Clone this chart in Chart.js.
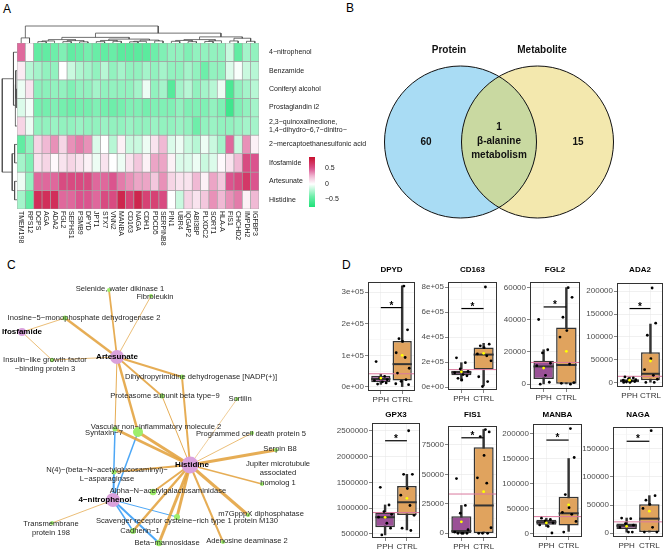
<!DOCTYPE html>
<html>
<head>
<meta charset="utf-8">
<script src="https://cdn.jsdelivr.net/npm/chart.js@4.4.0/dist/chart.umd.min.js"></script>
<style>
html, body { margin: 0; padding: 0; background: #fff; }
#fig { position: relative; width: 669px; height: 551px; overflow: hidden; font-family: "Liberation Sans", Arial, sans-serif; }
#fig canvas { position: absolute; }
.tag { position: absolute; font-size: 12px; line-height: 12px; color: #000; }
</style>
</head>
<body>
<div id="fig">
  <div class="tag" style="left:3px;top:3px">A</div>
  <div class="tag" style="left:346px;top:2px">B</div>
  <div class="tag" style="left:7px;top:259px">C</div>
  <div class="tag" style="left:342px;top:259px">D</div>
</div>
<script>
const FONT = '"Liberation Sans", Arial, sans-serif';

// ---------- A: correlation heatmap ----------
const genes = ['TMEM198','RPS12','DCPS','AGA','ADA2','FGL2','SEPHS1','PSMB9','DPYD','JPT1','STX7','VNN2','MANBA','CD163','NAGA',
  'CDH1','PDCD5','SERPINB8','PIN1','UBR4','IQGAP2','ABI3BP','PLXDC2','SORT1','HLA-A','FIS1','CHCHD2','IMPDH2','IGFBP3'];
const metabolites = ['4−nitrophenol','Benzamide','Coniferyl alcohol','Prostaglandin i2',
  ['2,3−quinoxalinedione,','1,4−dihydro−6,7−dinitro−'],'2−mercaptoethanesulfonic acid','Ifosfamide','Artesunate','Histidine'];

const rNitrophenol = [0.45,0.02,-0.45,-0.45,-0.4,-0.35,-0.45,-0.42,-0.38,-0.42,-0.45,-0.42,-0.48,-0.48,-0.48,-0.48,-0.4,-0.35,-0.3,-0.3,-0.35,-0.3,-0.3,-0.3,-0.3,-0.15,-0.45,-0.25,-0.3];
const rBenzamide = [0.07,-0.2,-0.25,-0.3,-0.3,0.0,-0.15,-0.22,-0.25,-0.3,-0.2,-0.3,-0.25,-0.3,-0.3,-0.25,-0.3,-0.25,-0.3,-0.3,-0.25,-0.3,-0.4,-0.3,-0.3,-0.1,-0.02,-0.15,-0.2];
const rConiferyl = [-0.05,0.1,-0.32,-0.32,-0.3,-0.3,-0.35,-0.3,-0.3,-0.25,-0.3,-0.3,-0.3,-0.3,-0.25,-0.05,-0.3,-0.25,-0.5,-0.25,-0.2,-0.3,-0.25,-0.2,-0.05,-0.55,-0.3,-0.25,-0.2];
const rProstaglandin = [-0.1,-0.03,-0.38,-0.38,-0.35,-0.38,-0.4,-0.38,-0.38,-0.35,-0.38,-0.4,-0.38,-0.35,-0.35,-0.38,-0.35,-0.35,-0.35,-0.3,-0.35,-0.35,-0.35,-0.3,-0.35,-0.6,-0.35,-0.3,-0.25];
const rQuinoxaline = [0.15,-0.05,-0.3,-0.3,-0.28,-0.3,-0.3,-0.28,-0.3,-0.3,-0.28,-0.3,-0.3,-0.28,-0.3,-0.3,-0.28,-0.3,-0.3,-0.28,-0.3,-0.4,-0.3,-0.28,-0.3,-0.3,-0.28,-0.25,-0.25];
const rMercapto = [-0.45,-0.3,0.15,0.25,0.35,0.15,0.35,0.4,0.35,-0.1,0.0,-0.2,0.05,-0.15,-0.15,-0.05,0.1,0.25,-0.1,-0.05,-0.15,-0.2,-0.05,-0.15,-0.25,0.45,-0.15,0.35,0.05];
const rIfosfamide = [-0.25,-0.35,0.1,0.15,0.02,0.1,0.15,0.1,0.05,-0.05,0.1,0.0,-0.05,0.1,0.2,0.05,0.3,0.3,0.05,-0.1,-0.1,-0.05,-0.15,-0.1,0.02,0.1,0.25,0.55,0.5];
const rArtesunate = [-0.05,-0.3,0.45,0.45,0.45,0.55,0.55,0.55,0.55,0.45,0.45,0.5,0.4,0.35,0.3,0.3,0.2,0.35,0.15,0.1,0.1,0.25,0.05,0.3,0.2,0.5,0.55,0.65,0.5];
const rHistidine = [-0.25,-0.45,0.7,0.7,0.7,0.45,0.45,0.5,0.5,0.45,0.55,0.55,0.75,0.6,0.75,0.6,0.6,0.55,0.0,-0.15,0.15,0.1,0.2,0.35,0.25,0.35,0.4,0.05,0.25];
const heatRows = [rNitrophenol, rBenzamide, rConiferyl, rProstaglandin, rQuinoxaline, rMercapto, rIfosfamide, rArtesunate, rHistidine];

// hclust-style merges: negative = leaf (1-based), positive = earlier merge (1-based)
const colMerge = [[-3,-4],[-5,1],[-6,-7],[-8,-9],[3,4],[2,5],[-10,-11],[-12,-13],[7,8],[-14,-15],[-16,10],[-17,-18],[11,12],[9,13],[6,14],
  [-19,-20],[-21,-22],[16,17],[-23,-24],[-25,19],[18,20],[-26,-27],[-28,-29],[22,23],[21,24],[15,25],[-1,-2],[27,26]];
const colHeight = [0.08,0.12,0.08,0.07,0.14,0.2,0.08,0.1,0.15,0.07,0.1,0.12,0.17,0.23,0.33,0.1,0.08,0.15,0.09,0.13,0.2,0.12,0.1,0.28,0.36,0.58,0.3,1.0];
const rowMerge = [[-3,-4],[-2,1],[-5,2],[-1,3],[-6,-7],[-8,-9],[5,6],[4,7]];
const rowHeight = [0.05,0.08,0.12,0.22,0.15,0.15,0.3,0.92];

const legendMin = -0.74, legendMax = 0.87;
const legendTicks = [-0.5, 0, 0.5];
const legendText = ['−0.5', '0', '0.5'];

// ---------- B: Venn ----------
const vennSets = ['Protein', 'Metabolite'];
const vennCounts = [60, 1, 15];           // protein only, shared, metabolite only
const sharedPathway = ['β-alanine', 'metabolism'];

// ---------- C: network ----------
const nodeNames = ['Selenide, water dikinase 1','Fibroleukin','Inosine−5−monophosphate dehydrogenase 2','Ifosfamide',
  ['Insulin−like growth factor','−binding protein 3'],'Artesunate','Dihydropyrimidine dehydrogenase [NADP(+)]',
  'Proteasome subunit beta type−9','Sortilin','Vascular non−inflammatory molecule 2','Syntaxin−7',
  'Programmed cell death protein 5','Serpin B8','Histidine',['Jupiter microtubule','associated','homolog 1'],
  ['N(4)−(beta−N−acetylglucosaminyl)−','L−asparaginase'],'Alpha−N−acetylgalactosaminidase','4−nitrophenol',
  'm7GpppX diphosphatase','Scavenger receptor cysteine−rich type 1 protein M130',['Transmembrane','protein 198'],
  'Cadherin−1','Beta−mannosidase','Adenosine deaminase 2'];
const nodeKind = ['p','p','p','d','p','d','p','p','p','p','p','p','p','d','p','p','p','d','p','p','p','p','p','p'];
const nodeX = [109,151,65,22,52,117,182,162,237,138,115,252,276,190,262,114,153,113,248,177,52,133,159,223];
const nodeY = [10,16,38,52,80,77,97,116,119,152,149,153,170,185,204,192,212,220,235,237,243,251,263,262];
const nodeSize = [2,2,2.5,4,2.2,7,2.5,2.5,2,5,2.5,2,2,8.5,2,2.5,3.3,7,2,3,2,3,3.3,2];
const labelX = [120,155,84,22,45,117,201,165,240,156,104,251,280,192,278,107,168,105,261,187,51,140,167,247];
const labelY = [8.5,17,38,52,80,77,97,116,119,147,153,154,169,185,184,190,211,220,234,241,244,251,263,261];
const edgeFrom = [5,5,5,5,5,5,5,5, 3,3, 13,13,13,13,13,13,13,13,13,13,13,13,13,13,13, 17,17,17,17,17,17,17];
const edgeTo   = [2,0,1,4,6,7,10,9, 2,4, 6,7,8,9,10,11,12,14,15,16,18,19,21,22,23, 10,15,9,19,21,22,20];
const edgeWeight = [2.5,1.8,0.8,0.8,2,1.8,1,2.5, 0.8,0.8, 2,1,0.6,3,2.5,0.8,3,1.5,2,2,3,3,2.5,3,2, 1.5,1.2,1.5,1,1.5,2,0.8];
const edgeSign = [1,1,1,1,1,1,1,1, 1,1, 1,1,1,1,1,1,1,1,1,1,1,1,1,1,1, -1,-1,-1,-1,-1,-1,1];

// ---------- D: boxplots ----------
const groupNames = ['PPH', 'CTRL'];
const boxGenes = ['DPYD','CD163','FGL2','ADA2','GPX3','FIS1','MANBA','NAGA'];
// [lower whisker, Q1, median, Q3, upper whisker]
const pphBox = [[8000,15000,25000,35000,40000],[50000,95000,118000,130000,195000],[0,3200,11000,14500,21400],[0,1000,3000,7000,12000],
  [480000,629000,823000,913000,1061000],[0,0,1900,14400,23600],[15000,18300,23500,28100,31400],[1700,7400,13100,17100,26800]];
const ctrlBox = [[0,20000,72000,145000,320000],[10000,140000,260000,317000,350000],[0,0,11900,35200,60000],[0,5000,19000,66000,128000],
  [577000,868000,1113000,1429000,1655000],[0,0,23600,73000,88000],[5200,17000,41200,73900,150300],[1700,1700,25700,51300,66700]];
const pphPoints = [[80000,33000,28000,23000,20000,16000,12500,9000],[234000,195000,145000,125000,115000,100000,90000,70000,57000],
  [40200,21400,19400,13000,11500,5500,1200,0],[12000,10000,8000,6000,5000,3000,2000,1000,0,0],
  [1403000,1060000,932000,880000,823000,706000,610000,480000],[46400,23600,17000,3000,1000,0,0,0,0],
  [31400,29000,26000,22000,18000,15000,2000],[26800,25600,17000,14000,10000,1700,1700]];
const ctrlPoints = [[319000,180700,152600,144000,108000,93000,59000,43600,22800,17600,7000,10000],
  [800000,343000,330000,315000,265000,250000,210000,83000,44000,5000],[60000,54000,41600,33300,29300,12500,1000,500,0],
  [207000,130000,103500,52000,28000,15500,7000,0,0],[2500000,1655000,1655000,1380000,1250000,1050000,860000,610000,565000],
  [88000,86000,82000,66000,47000,42500,4700,0,0,0],[209800,152300,78400,52300,43100,39200,25000,3900],
  [182500,66700,58700,51300,43900,10300,1700,1700]];
const pphMean = [28000,122000,10000,5000,820000,9700,22000,12000];
const ctrlMean = [100000,270000,20400,47000,1190000,35300,58000,39000];
const overallLine = [41500,140000,13500,13400,913000,33300,34600,20000];
const sigLevel = [251000,628000,48000,162000,2306000,81000,187000,163600];
const yRange = [[-13000,332000],[-23000,840000],[-3000,63500],[-10000,218000],[420000,2650000],[-4000,91000],[-6000,219000],[-7000,189000]];
const yTickVals = [[0,1e5,2e5,3e5],[0,2e5,4e5,6e5,8e5],[0,2e4,4e4,6e4],[0,5e4,1e5,1.5e5,2e5],[5e5,1e6,1.5e6,2e6,2.5e6],
  [0,25000,50000,75000],[0,5e4,1e5,1.5e5,2e5],[0,5e4,1e5,1.5e5]];
const yTickText = [['0e+00','1e+05','2e+05','3e+05'],['0e+00','2e+05','4e+05','6e+05','8e+05'],['0','20000','40000','60000'],
  ['0','50000','100000','150000','200000'],['500000','1000000','1500000','2000000','2500000'],['0','25000','50000','75000'],
  ['0','50000','100000','150000','200000'],['0','50000','100000','150000']];
const jitter = [-0.22,0.18,-0.05,0.3,-0.3,0.08,0.25,-0.15,0.02,-0.28,0.14,0.33];

// layout (page pixels)
const panelRect = [[368,282,415,391],[448,282,497,390],[530,282,580,389],[617,283,663,387],
  [372,423,420,538],[448,426,497,538],[533,424,582,537],[613,427,663,537]];
const titleRowY = [270, 415];

Chart.defaults.font.family = FONT;
Chart.defaults.animation = false;
Chart.defaults.responsive = false;
Chart.defaults.layout.autoPadding = false;
Chart.defaults.plugins.legend.display = false;
Chart.defaults.plugins.tooltip.enabled = false;

function makeCanvas(left, top, w, h) {
  const c = document.createElement('canvas');
  c.width = w; c.height = h;
  c.style.left = left + 'px'; c.style.top = top + 'px';
  c.style.width = w + 'px'; c.style.height = h + 'px';
  document.getElementById('fig').appendChild(c);
  return c;
}

function mix(a, b, t) { return a.map((v, i) => Math.round(v + (b[i] - v) * t)); }
const heatStops = [[-0.74,[30,225,120]],[-0.4,[110,238,170]],[0,[255,255,255]],[0.25,[240,185,212]],[0.5,[219,84,142]],[0.87,[200,16,46]]];
function heatColor(v) {
  if (v <= heatStops[0][0]) return 'rgb(' + heatStops[0][1] + ')';
  for (let k = 1; k < heatStops.length; k++) {
    if (v <= heatStops[k][0]) {
      const t = (v - heatStops[k-1][0]) / (heatStops[k][0] - heatStops[k-1][0]);
      return 'rgb(' + mix(heatStops[k-1][1], heatStops[k][1], t) + ')';
    }
  }
  return 'rgb(' + heatStops[heatStops.length-1][1] + ')';
}

// column labels read top to bottom
const colLabels = {
  id: 'colLabels',
  afterDraw(chart) {
    const {ctx, chartArea} = chart, xs = chart.scales.x;
    ctx.save();
    ctx.font = '7px ' + FONT; ctx.fillStyle = '#222';
    ctx.textAlign = 'left'; ctx.textBaseline = 'middle';
    genes.forEach((g, i) => {
      ctx.save();
      ctx.translate(xs.getPixelForValue(i), chartArea.bottom + 2);
      ctx.rotate(Math.PI / 2);
      ctx.fillText(g, 0, 0);
      ctx.restore();
    });
    ctx.restore();
  }
};

new Chart(makeCanvas(0, 0, 372, 270), {
  type: 'bar',
  data: {
    labels: genes,
    datasets: heatRows.map(row => ({
      data: row.map(() => 1),
      backgroundColor: row.map(heatColor),
      borderColor: '#a3a3a3', borderWidth: 0.7, borderSkipped: false,
      barPercentage: 1, categoryPercentage: 1
    }))
  },
  options: {
    events: [],
    layout: { padding: { left: 17, top: 43, right: 0, bottom: 61 } },
    scales: {
      x: { display: false, stacked: true },
      y: {
        stacked: true, min: 0, max: 9, reverse: true, position: 'right',
        grid: { display: false }, border: { display: false },
        afterBuildTicks: s => { s.ticks = metabolites.map((m, i) => ({ value: i + 0.5 })); },
        afterFit: s => { s.width = 113; },
        ticks: { autoSkip: false, padding: 2, color: '#222', font: { size: 7 }, callback: (v, i) => metabolites[i] }
      }
    }
  },
  plugins: [colLabels]
});

function dendroLines(merge, height) {
  const pos = [], hs = [];
  const get = k => k < 0 ? [-k - 1, 0] : [pos[k - 1], hs[k - 1]];
  return merge.map((m, i) => {
    const [xa, ha] = get(m[0]), [xb, hb] = get(m[1]);
    pos[i] = (xa + xb) / 2; hs[i] = height[i];
    return [[xa, ha], [xa, height[i]], [xb, height[i]], [xb, hb]];
  });
}
const dendroStyle = { showLine: true, pointRadius: 0, borderColor: '#4d4d4d', borderWidth: 0.8, clip: 3 };

new Chart(makeCanvas(17, 24, 242, 19), {
  type: 'scatter',
  data: { datasets: dendroLines(colMerge, colHeight).map(seg => Object.assign({ data: seg.map(p => ({ x: p[0], y: p[1] })) }, dendroStyle)) },
  options: { events: [], layout: { padding: { top: 2 } },
    scales: { x: { display: false, min: -0.5, max: genes.length - 0.5 }, y: { display: false, min: 0, max: 1 } } }
});

new Chart(makeCanvas(0, 43, 17, 166), {
  type: 'scatter',
  data: { datasets: dendroLines(rowMerge, rowHeight).map(seg => Object.assign({ data: seg.map(p => ({ x: p[1], y: p[0] })) }, dendroStyle)) },
  options: { events: [], layout: { padding: { left: 1 } },
    scales: { x: { display: false, min: 0, max: 1, reverse: true }, y: { display: false, min: -0.5, max: metabolites.length - 0.5, reverse: true } } }
});

// colour key
new Chart(makeCanvas(300, 150, 45, 64), {
  type: 'bar',
  data: { labels: [''], datasets: [{
    data: [[legendMin, legendMax]], borderWidth: 0, barPercentage: 1, categoryPercentage: 1,
    backgroundColor: c => {
      const ch = c.chart; if (!ch.chartArea) return '#fff';
      const y = ch.scales.y;
      const g = ch.ctx.createLinearGradient(0, y.getPixelForValue(legendMin), 0, y.getPixelForValue(legendMax));
      for (let k = 0; k <= 24; k++) g.addColorStop(k / 24, heatColor(legendMin + (legendMax - legendMin) * k / 24));
      return g;
    }
  }] },
  options: {
    events: [],
    layout: { padding: { left: 9, top: 7, bottom: 7, right: 0 } },
    scales: {
      x: { display: false },
      y: { position: 'right', min: legendMin, max: legendMax, grid: { display: false }, border: { display: false },
        afterBuildTicks: s => { s.ticks = legendTicks.map(v => ({ value: v })); },
        afterFit: s => { s.width = 30; },
        ticks: { padding: 2, color: '#222', font: { size: 7 }, callback: (v, i) => legendText[i] } }
    }
  }
});

// ---------- B ----------
const vennPlugin = {
  id: 'venn',
  afterDatasetsDraw(chart) {
    const {ctx, scales: {x, y}} = chart;
    const a = chart.getDatasetMeta(0).data[0], b = chart.getDatasetMeta(1).data[0];
    const R = chart.data.datasets[0].pointRadius;
    ctx.save();
    ctx.beginPath(); ctx.arc(a.x, a.y, R, 0, Math.PI * 2); ctx.clip();
    ctx.beginPath(); ctx.arc(b.x, b.y, R, 0, Math.PI * 2);
    ctx.fillStyle = '#c9d9a1'; ctx.fill();
    ctx.restore();
    ctx.save();
    ctx.strokeStyle = '#111'; ctx.lineWidth = 1;
    [a, b].forEach(p => { ctx.beginPath(); ctx.arc(p.x, p.y, R, 0, Math.PI * 2); ctx.stroke(); });
    ctx.fillStyle = '#111'; ctx.textAlign = 'center'; ctx.textBaseline = 'middle';
    ctx.font = 'bold 10px ' + FONT;
    ctx.fillText(vennSets[0], x.getPixelForValue(-50), y.getPixelForValue(92));
    ctx.fillText(vennSets[1], x.getPixelForValue(43), y.getPixelForValue(92));
    ctx.fillText(String(vennCounts[0]), x.getPixelForValue(-73), y.getPixelForValue(0));
    ctx.fillText(String(vennCounts[2]), x.getPixelForValue(79), y.getPixelForValue(0));
    ctx.fillText(String(vennCounts[1]), x.getPixelForValue(0), y.getPixelForValue(15));
    ctx.fillText(sharedPathway[0], x.getPixelForValue(0), y.getPixelForValue(1));
    ctx.fillText(sharedPathway[1], x.getPixelForValue(0), y.getPixelForValue(-13));
    ctx.restore();
  }
};
new Chart(makeCanvas(337, 12, 324, 260), {
  type: 'scatter',
  data: { datasets: [
    { data: [{ x: -38.5, y: 0 }], pointRadius: 76, backgroundColor: '#a9dcf4', borderWidth: 0, clip: false },
    { data: [{ x: 38.5, y: 0 }], pointRadius: 76, backgroundColor: '#f3e8ae', borderWidth: 0, clip: false }
  ] },
  options: { events: [], scales: { x: { display: false, min: -162, max: 162 }, y: { display: false, min: -130, max: 130 } } },
  plugins: [vennPlugin]
});

// ---------- C ----------
const netLabels = {
  id: 'netLabels',
  afterDatasetsDraw(chart) {
    const {ctx, scales: {x, y}} = chart;
    ctx.save();
    ctx.textAlign = 'center'; ctx.textBaseline = 'middle';
    nodeNames.forEach((name, i) => {
      const lines = Array.isArray(name) ? name : [name];
      const drug = nodeKind[i] === 'd';
      ctx.font = (drug ? 'bold 8px ' : '7.6px ') + FONT;
      ctx.fillStyle = drug ? '#000' : '#262626';
      lines.forEach((ln, k) => ctx.fillText(ln, x.getPixelForValue(labelX[i]), y.getPixelForValue(labelY[i]) + k * 9.4));
    });
    ctx.restore();
  }
};
const netDatasets = [{
  data: nodeX.map((v, i) => ({ x: v, y: nodeY[i] })),
  pointRadius: nodeSize, borderWidth: 0, order: 0, clip: false,
  backgroundColor: nodeKind.map(k => k === 'd' ? '#daa1dc' : '#9dee6a')
}];
edgeFrom.forEach((f, i) => {
  const t = edgeTo[i];
  netDatasets.push({
    type: 'line', order: 1, pointRadius: 0, clip: false,
    data: [{ x: nodeX[f], y: nodeY[f] }, { x: nodeX[t], y: nodeY[t] }],
    borderColor: edgeSign[i] > 0 ? 'rgba(226,162,62,0.88)' : 'rgba(62,160,245,0.92)',
    borderWidth: edgeWeight[i]
  });
});
new Chart(makeCanvas(0, 280, 340, 271), {
  type: 'scatter',
  data: { datasets: netDatasets },
  options: { events: [], scales: { x: { display: false, min: 0, max: 340 }, y: { display: false, min: 0, max: 271, reverse: true } } },
  plugins: [netLabels]
});

// ---------- D ----------
function boxPanel(i) {
  const [L, T, R, B] = panelRect[i];
  const canvasTop = T - 24;
  const titleY = titleRowY[i < 4 ? 0 : 1] - canvasTop;
  const [lo, hi] = yRange[i];
  const pts = [];
  pphPoints[i].forEach((v, k) => pts.push({ x: 0 + jitter[k % jitter.length], y: v }));
  ctrlPoints[i].forEach((v, k) => pts.push({ x: 1 + jitter[(k + 5) % jitter.length], y: v }));
  const stats = [pphBox[i], ctrlBox[i]];

  const extras = {
    id: 'boxExtras' + i,
    afterDatasetDraw(chart, args) {
      if (chart.data.datasets[args.index].role !== 'box') return;
      const {ctx} = chart, ys = chart.scales.y;
      ctx.save();
      ctx.strokeStyle = '#333'; ctx.lineWidth = 2;
      args.meta.data.forEach((el, k) => {
        const yy = ys.getPixelForValue(stats[k][2]);
        ctx.beginPath(); ctx.moveTo(el.x - el.width / 2, yy); ctx.lineTo(el.x + el.width / 2, yy); ctx.stroke();
      });
      ctx.restore();
    },
    afterDraw(chart) {
      const {ctx, chartArea: a, scales: {x, y}} = chart;
      ctx.save();
      ctx.strokeStyle = '#333'; ctx.lineWidth = 1;
      ctx.strokeRect(a.left + 0.5, a.top + 0.5, a.width - 1, a.height - 1);
      ctx.fillStyle = '#000'; ctx.textAlign = 'center'; ctx.textBaseline = 'alphabetic';
      ctx.font = 'bold 10px ' + FONT;
      ctx.fillText('*', x.getPixelForValue(0.5), y.getPixelForValue(sigLevel[i]) + 1);
      ctx.textBaseline = 'middle';
      ctx.font = 'bold 8px ' + FONT;
      ctx.fillText(boxGenes[i], (a.left + a.right) / 2, titleY);
      ctx.restore();
    }
  };

  new Chart(makeCanvas(L - 40, canvasTop, 40 + (R - L) + 4, 24 + (B - T) + 16), {
    type: 'bar',
    data: { datasets: [
      { type: 'scatter', order: 0, data: [{ x: 0, y: pphMean[i] }, { x: 1, y: ctrlMean[i] }], pointRadius: 1.4, backgroundColor: '#ffff00', borderWidth: 0 },
      { type: 'scatter', order: 0, data: pts, pointRadius: 1.4, backgroundColor: '#000', borderWidth: 0 },
      { type: 'line', order: 1, data: [{ x: -0.6, y: overallLine[i] }, { x: 1.6, y: overallLine[i] }], borderColor: '#d9799d', borderWidth: 1, pointRadius: 0 },
      { type: 'line', order: 1, data: [{ x: 0, y: sigLevel[i] }, { x: 1, y: sigLevel[i] }], borderColor: '#000', borderWidth: 1.2, pointRadius: 0 },
      { type: 'bar', role: 'box', order: 2, grouped: false, data: stats.map((s, k) => ({ x: k, y: [s[1], s[3]] })),
        backgroundColor: ['#9a5196', '#e0a35e'], borderColor: '#333', borderWidth: 1.5, borderSkipped: false,
        barPercentage: 0.9, categoryPercentage: 1 },
      { type: 'bar', order: 3, grouped: false, data: stats.map((s, k) => ({ x: k, y: [s[0], s[4]] })),
        backgroundColor: '#333', borderWidth: 0, barThickness: 1.8 }
    ] },
    options: {
      events: [],
      layout: { padding: { top: 24, right: 4, left: 2, bottom: 0 } },
      scales: {
        x: { type: 'linear', min: -0.6, max: 1.6, offset: false,
          afterBuildTicks: s => { s.ticks = groupNames.map((g, k) => ({ value: k })); },
          afterFit: s => { s.height = 16; },
          grid: { color: '#ebebeb', lineWidth: 0.6, offset: false, tickLength: 3, tickColor: '#333' },
          border: { display: false },
          ticks: { color: '#333', font: { size: 8 }, padding: 1, maxRotation: 0, autoSkip: false, callback: (v, k) => groupNames[k] } },
        y: { min: lo, max: hi,
          afterBuildTicks: s => {
            const maj = yTickVals[i], step = maj[1] - maj[0], t = [];
            maj.forEach((v, k) => t.push({ value: v, lab: yTickText[i][k] }));
            for (let v = maj[0] - step / 2; v <= hi; v += step) if (v >= lo) t.push({ value: v, lab: '', minor: true });
            t.sort((p, q) => p.value - q.value);
            s.ticks = t;
          },
          afterFit: s => { s.width = 38; },
          grid: { color: c => c.tick && c.tick.minor ? '#f3f3f3' : '#e6e6e6', lineWidth: 0.6, tickLength: 3,
            tickColor: c => c.tick && c.tick.minor ? 'rgba(0,0,0,0)' : '#333' },
          border: { display: false },
          ticks: { color: '#4d4d4d', font: { size: 8 }, padding: 1, autoSkip: false, callback: (v, k, t) => t[k].lab } }
      }
    },
    plugins: [extras]
  });
}
boxGenes.forEach((g, i) => boxPanel(i));
</script>
</body>
</html>
